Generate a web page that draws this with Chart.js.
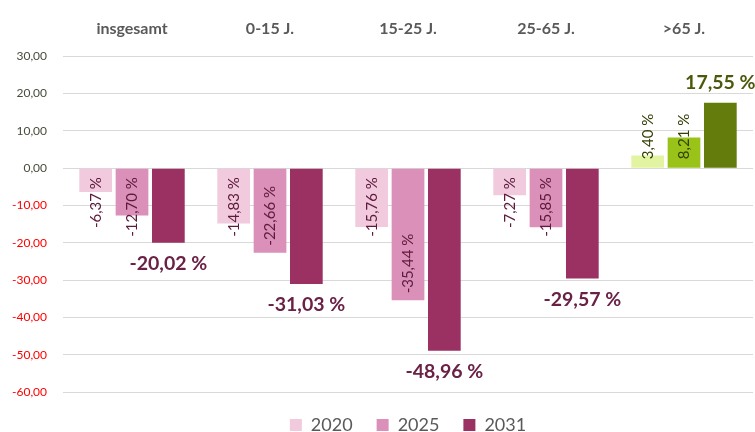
<!DOCTYPE html>
<html>
<head>
<meta charset="utf-8">
<script src="https://cdn.jsdelivr.net/npm/chart.js@4/dist/chart.umd.min.js"></script>
<style>
  html, body { margin: 0; padding: 0; background: #fff; }
  #wrap { width: 755px; height: 432px; position: relative; }
</style>
</head>
<body>
<div id="wrap"><canvas id="chart"></canvas></div>
<script>
'use strict';

// Altersgruppen und Veränderungen in %
const categories = ['insgesamt', '0-15 J.', '15-25 J.', '25-65 J.', '>65 J.'];
const years = ['2020', '2025', '2031'];
const values2020 = [-6.37, -14.83, -15.76, -7.27, 3.40];
const values2025 = [-12.70, -22.66, -35.44, -15.85, 8.21];
const values2031 = [-20.02, -31.03, -48.96, -29.57, 17.55];
const yTicks = [30, 20, 10, 0, -10, -20, -30, -40, -50, -60];

const FONT = 'Lato, "Open Sans", sans-serif';

const COLORS = {
    pink: ['#F1CADD', '#DA90B8', '#9A3162'],
    green: ['#E2F4A2', '#9AC31A', '#637C0B'],
    labelPink: '#5E1A3C',
    labelGreen: '#343F05',
    bigPink: '#6A2146',
    bigGreen: '#4A590A',
    grid: '#D9D9D9',
    text: '#595959',
    neg: '#FF0000',
    pos: '#474C3C',
};

const fmt = v => v.toFixed(2).replace('.', ',') + ' %';
const isGreen = i => i === 4; // >65 J. wird grün dargestellt

// eigene Datenbeschriftungen (gedreht für 2020/2025, groß für 2031)
const labelPlugin = {
    id: 'barLabels',
    beforeDraw(chart) {
        // Legende über dem Diagrammbereich zentrieren
        const lg = chart.legend, area = chart.chartArea;
        if (!lg || !area) return;
        const dx = (area.left + area.right) / 2 - (lg.left + lg.right) / 2;
        lg.left += dx;
        lg.right += dx;
    },
    afterDatasetsDraw(chart) {
        const ctx = chart.ctx;
        const y0 = chart.scales.y.getPixelForValue(0);
        chart.data.datasets.forEach((ds, di) => {
            const meta = chart.getDatasetMeta(di);
            meta.data.forEach((bar, i) => {
                const v = ds.data[i];
                const txt = fmt(v);
                ctx.save();
                if (di < 2) {
                    ctx.font = '15px ' + FONT;
                    ctx.fillStyle = isGreen(i) ? COLORS.labelGreen : COLORS.labelPink;
                    const len = ctx.measureText(txt).width;
                    let cy;
                    if (v < 0) {
                        let top = bar.y - 7 - len;
                        if (top < y0 + 9) top = y0 + 9;
                        cy = top + len / 2;
                    } else {
                        let bottom = bar.y + 7 + len;
                        if (bottom > y0 - 9) bottom = y0 - 9;
                        cy = bottom - len / 2;
                    }
                    ctx.translate(bar.x, cy);
                    ctx.rotate(-Math.PI / 2);
                    ctx.textAlign = 'center';
                    ctx.textBaseline = 'middle';
                    ctx.fillText(txt, 0, 0);
                } else {
                    ctx.font = 'bold 19.5px ' + FONT;
                    ctx.fillStyle = isGreen(i) ? COLORS.bigGreen : COLORS.bigPink;
                    ctx.textAlign = 'center';
                    ctx.textBaseline = 'middle';
                    ctx.fillText(txt, bar.x, v < 0 ? bar.y + 21 : bar.y - 20);
                }
                ctx.restore();
            });
        });
    }
};

const series = [values2020, values2025, values2031];

new Chart(document.getElementById('chart'), {
    type: 'bar',
    data: {
        labels: categories,
        datasets: series.map((data, k) => ({
            label: years[k],
            data,
            backgroundColor: c => isGreen(c.dataIndex) ? COLORS.green[k] : COLORS.pink[k],
            borderWidth: 0,
            categoryPercentage: 0.79,
            barPercentage: 0.9,
        }))
    },
    options: {
        responsive: true,
        maintainAspectRatio: false,
        animation: false,
        layout: { padding: { left: -4, right: 2, top: 1, bottom: -12 } },
        plugins: {
            tooltip: { enabled: false },
            legend: {
                position: 'bottom',
                labels: {
                    boxWidth: 12,
                    boxHeight: 12,
                    padding: 24,
                    color: COLORS.text,
                    font: { family: FONT, size: 18 },
                }
            }
        },
        scales: {
            x: {
                position: 'top',
                grid: { display: false, drawTicks: false },
                border: { display: false },
                ticks: {
                    color: COLORS.text,
                    padding: 18,
                    font: { family: FONT, size: 16, weight: 'bold' },
                }
            },
            y: {
                min: -60,
                max: 30,
                afterBuildTicks: axis => { axis.ticks = yTicks.map(value => ({ value })); },
                grid: { color: COLORS.grid, drawTicks: false },
                border: { display: false },
                ticks: {
                    padding: 16,
                    font: { family: FONT, size: 12 },
                    color: c => c.tick.value < 0 ? COLORS.neg : COLORS.pos,
                    callback: v => v.toFixed(2).replace('.', ','),
                }
            }
        }
    },
    plugins: [labelPlugin]
});
</script>
</body>
</html>
